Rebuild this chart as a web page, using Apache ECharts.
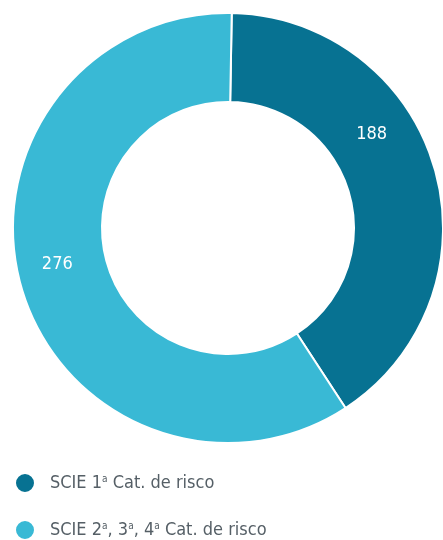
<!DOCTYPE html>
<html>
<head>
<meta charset="utf-8">
<script src="https://cdn.jsdelivr.net/npm/echarts@6/dist/echarts.min.js"></script>
<style>
  html, body { margin: 0; padding: 0; background: #fff; }
  #donut { width: 443px; height: 540px; }
</style>
</head>
<body>
<div id="donut"></div>
<script>
let myChart = echarts.init(document.querySelector('#donut'), null, { renderer: 'canvas' });

const categories = ['SCIE 1ª Cat. de risco', 'SCIE 2ª, 3ª, 4ª Cat. de risco'];
const values = [188, 276];
const colors = ['#077292', '#39b9d5'];

// labels sit a bit off the slice middle in the original
const labelShift = [[-23, -46], [-4, -12]];

const font = '"DejaVu Sans Condensed", "Liberation Sans Narrow", "Noto Sans", sans-serif';

let option = {
  animation: false,
  legend: {
    orient: 'vertical',
    left: 14,
    top: 472,
    padding: 0,
    width: 400,
    height: 100,
    itemWidth: 20,
    itemHeight: 20,
    itemGap: 25,
    icon: 'circle',
    data: categories,
    formatter: name => name.replace(/ª/g, '{sup|a}'),
    textStyle: {
      fontFamily: font,
      fontSize: 18,
      color: '#555f66',
      padding: [0, 0, 0, 10],
      rich: {
        sup: {
          fontFamily: font,
          fontSize: 10,
          color: '#555f66',
          verticalAlign: 'top',
          padding: [0, 0, 8, 0]
        }
      }
    }
  },
  series: [
    {
      type: 'pie',
      center: [228, 228],
      radius: [126, 215],
      startAngle: 89,
      silent: true,
      itemStyle: {
        borderColor: '#fff',
        borderWidth: 2
      },
      label: {
        position: 'inside',
        formatter: '{c}',
        color: '#fff',
        fontFamily: font,
        fontSize: 18
      },
      labelLine: { show: false },
      labelLayout: params => ({
        dx: labelShift[params.dataIndex][0],
        dy: labelShift[params.dataIndex][1]
      }),
      data: categories.map((name, i) => ({
        name: name,
        value: values[i],
        itemStyle: { color: colors[i] }
      }))
    }
  ]
};

myChart.setOption(option);
</script>
</body>
</html>
